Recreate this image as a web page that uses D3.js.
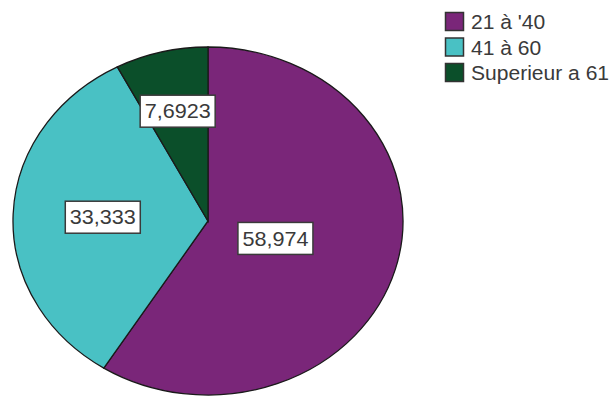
<!DOCTYPE html>
<html>
<head>
<meta charset="utf-8">
<script src="https://cdn.jsdelivr.net/npm/d3@7"></script>
<style>
  body { margin: 0; background: #fff; }
  text { font-family: "Liberation Sans", Arial, sans-serif; }
</style>
</head>
<body>
<div id="pie-chart"></div>
<script>
// data
var categories = ["21 à '40", "41 à 60", "Superieur a 61"];
var values = [58.974, 33.333, 7.6923];
var valueLabels = ["58,974", "33,333", "7,6923"];
var colors = ["#7a2679", "#49c1c4", "#0b4f2a"];

// where each label sits, as a share of the radius
var labelPos = [0.36, 0.54, 0.65];

var width = 614, height = 396;
var cx = 208, cy = 221, rx = 195, ry = 174;
var stretch = 1.08; // text looks a bit wider than tall in the original

var svg = d3.select("#pie-chart").append("svg")
    .attr("width", width)
    .attr("height", height);

var slices = values.map(function(v, i) {
    return { name: categories[i], value: v, label: valueLabels[i], color: colors[i], lr: labelPos[i] };
});

var pie = d3.pie()
    .sort(null)
    .value(function(d) { return d.value; });

var arcs = pie(slices);

var arc = d3.arc()
    .innerRadius(0)
    .outerRadius(rx);

// pie drawn as a circle then squashed into an ellipse
var pieG = svg.append("g")
    .attr("transform", "translate(" + cx + "," + cy + ") scale(1," + (ry / rx) + ")");

pieG.selectAll(".slice")
    .data(arcs)
    .enter().append("path")
    .attr("class", "slice")
    .attr("d", arc)
    .style("fill", function(d) { return d.data.color; })
    .style("stroke", "#1a1a1a")
    .style("stroke-width", 1.3)
    .attr("vector-effect", "non-scaling-stroke");

// value labels in white boxes
var labelG = svg.append("g")
    .attr("transform", "translate(" + cx + "," + cy + ")");

arcs.forEach(function(d) {
    var r = rx * d.data.lr;
    var c = d3.arc().innerRadius(r).outerRadius(r).centroid(d);
    var x = c[0], y = c[1] * ry / rx;

    var g = labelG.append("g").attr("transform", "translate(" + x + "," + y + ")");
    var rect = g.append("rect");
    var t = g.append("text")
        .attr("text-anchor", "middle")
        .attr("dy", "0.36em")
        .attr("transform", "scale(" + stretch + ",1)")
        .style("font-size", "20px")
        .style("fill", "#3a3a3a")
        .text(d.data.label);
    var bb = t.node().getBBox();
    var w = bb.width * stretch + 9;
    rect.attr("x", -w / 2)
        .attr("y", -16)
        .attr("width", w)
        .attr("height", 32)
        .style("fill", "#fff")
        .style("stroke", "#3a3a3a")
        .style("stroke-width", 1.5);
});

// legend
var legend = svg.append("g")
    .attr("transform", "translate(445,12)");

var items = legend.selectAll(".legend-item")
    .data(slices)
    .enter().append("g")
    .attr("class", "legend-item")
    .attr("transform", function(d, i) { return "translate(0," + (i * 25.5) + ")"; });

items.append("rect")
    .attr("x", 0.5)
    .attr("y", 0.5)
    .attr("width", 18)
    .attr("height", 18)
    .style("fill", function(d) { return d.color; })
    .style("stroke", "#333")
    .style("stroke-width", 1.5);

items.append("text")
    .attr("transform", "translate(26,17) scale(" + stretch + ",1)")
    .style("font-size", "19.5px")
    .style("fill", "#3a3a3a")
    .text(function(d) { return d.name; });
</script>
</body>
</html>
